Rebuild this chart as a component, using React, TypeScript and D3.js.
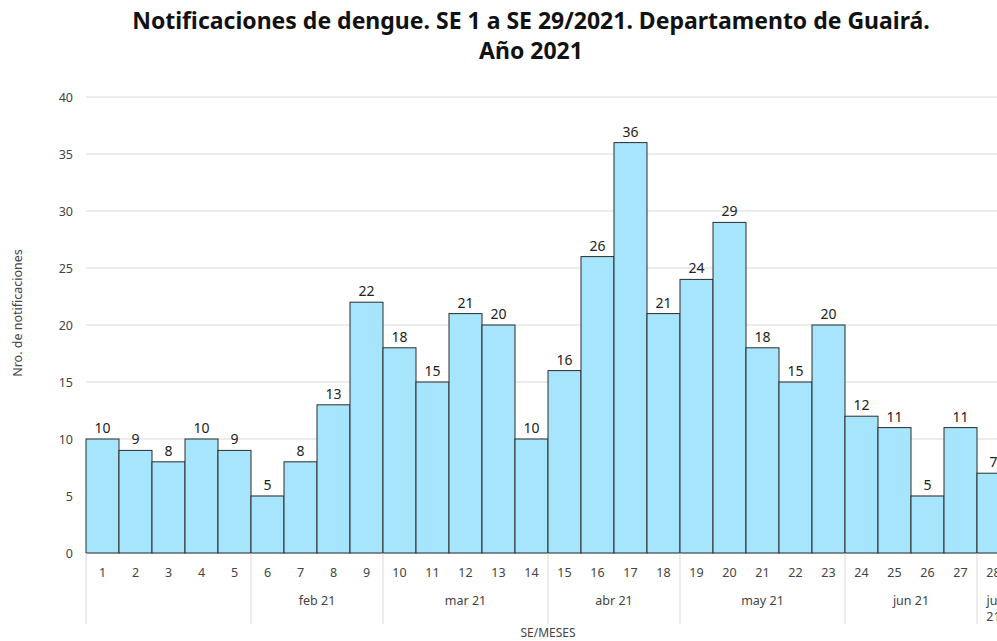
import * as d3 from "d3";
import React from "react";

const weeks = ["1","2","3","4","5","6","7","8","9","10","11","12","13","14","15","16","17","18","19","20","21","22","23","24","25","26","27","28"];
const cases = [10,9,8,10,9,5,8,13,22,18,15,21,20,10,16,26,36,21,24,29,18,15,20,12,11,5,11,7];
const monthNames = ["", "feb 21", "mar 21", "abr 21", "may 21", "jun 21", "jul 21"];
const monthStart = [0, 5, 9, 14, 18, 23, 27];
const monthEnd = [5, 9, 14, 18, 23, 27, 28];
const yTicks = [0, 5, 10, 15, 20, 25, 30, 35, 40];

const W = 997;
const H = 641;
const FONT = "'Noto Sans', 'Open Sans', sans-serif";

export default function App() {
  const left = 86;
  const bw = 33;
  const x = d3.scaleBand().domain(weeks).range([left, left + bw * weeks.length]).padding(0);
  const y = d3.scaleLinear().domain([0, 40]).range([553, 97]);
  const xEnd = left + bw * weeks.length;

  return (
    <div style={{ position: "fixed", left: 0, top: 0, width: W, height: H, overflow: "hidden", background: "#fff" }}>
      <svg width={W} height={H} style={{ display: "block" }} fontFamily={FONT}>
        <text x={531} y={29} textAnchor="middle" fontSize={23} fontWeight="bold" fill="#111">
          Notificaciones de dengue. SE 1 a SE 29/2021. Departamento de Guairá.
        </text>
        <text x={531} y={59} textAnchor="middle" fontSize={23} fontWeight="bold" fill="#111">
          Año 2021
        </text>

        {yTicks.map((t) => (
          <g key={t}>
            <line x1={left} x2={xEnd} y1={y(t)} y2={y(t)} stroke="#d9d9d9" strokeWidth={1} />
            <text x={73} y={y(t) + 4.5} textAnchor="end" fontSize={12.5} fill="#444">{t}</text>
          </g>
        ))}

        <text transform={`translate(22,313) rotate(-90)`} textAnchor="middle" fontSize={12.5} fill="#444">
          Nro. de notificaciones
        </text>

        {cases.map((v, i) => {
          const bx = x(weeks[i]) as number;
          return (
            <g key={i}>
              <rect x={bx} y={y(v)} width={x.bandwidth()} height={y(0) - y(v)} fill="#a6e5fb" stroke="#2b2b2b" strokeWidth={1} />
              <text x={bx + x.bandwidth() / 2} y={y(v) - 6} textAnchor="middle" fontSize={14} fill="#222">{v}</text>
              <text x={bx + x.bandwidth() / 2} y={577} textAnchor="middle" fontSize={12.5} fill="#444">{weeks[i]}</text>
            </g>
          );
        })}

        {monthStart.map((s, i) => {
          const x0 = x(weeks[s]) as number;
          const x1 = (x(weeks[monthEnd[i] - 1]) as number) + x.bandwidth();
          const cx = (x0 + x1) / 2;
          const narrow = x1 - x0 < 40;
          const parts = narrow ? monthNames[i].split(" ") : [monthNames[i]];
          return (
            <g key={i}>
              <line x1={x0} x2={x0} y1={553} y2={624} stroke="#d9d9d9" strokeWidth={1} />
              {parts.map((p, j) => (
                <text key={j} x={cx} y={605 + j * 16} textAnchor="middle" fontSize={12.5} fill="#444">{p}</text>
              ))}
            </g>
          );
        })}

        <text x={(left + xEnd) / 2} y={637} textAnchor="middle" fontSize={12} fill="#444">SE/MESES</text>
      </svg>
    </div>
  );
}
